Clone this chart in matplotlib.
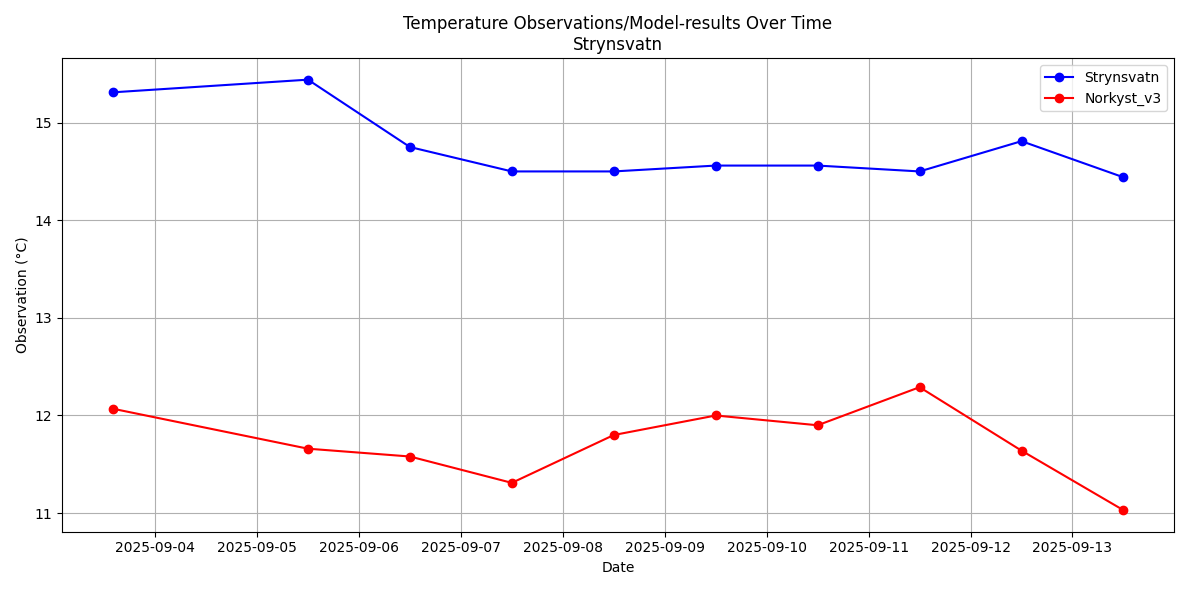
import matplotlib
matplotlib.use("Agg")
import matplotlib.pyplot as plt
import matplotlib.dates as mdates
import pandas as pd

dates = pd.to_datetime(["2025-09-03 14:00", "2025-09-05 12:00", "2025-09-06 12:00", "2025-09-07 12:00",
                        "2025-09-08 12:00", "2025-09-09 12:00", "2025-09-10 12:00", "2025-09-11 12:00",
                        "2025-09-12 12:00", "2025-09-13 12:00"])
strynsvatn = [15.31, 15.44, 14.75, 14.50, 14.50, 14.56, 14.56, 14.50, 14.81, 14.44]
norkyst = [12.07, 11.66, 11.58, 11.31, 11.80, 12.00, 11.90, 12.29, 11.64, 11.03]

fig, ax = plt.subplots(figsize=(11.89, 5.9), dpi=100)
ax.plot(dates, strynsvatn, "o-", color="blue", label="Strynsvatn")
ax.plot(dates, norkyst, "o-", color="red", label="Norkyst_v3")
ax.set_title("Temperature Observations/Model-results Over Time\nStrynsvatn")
ax.set_xlabel("Date")
ax.set_ylabel("Observation (°C)")
ax.xaxis.set_major_locator(mdates.DayLocator())
ax.xaxis.set_major_formatter(mdates.DateFormatter("%Y-%m-%d"))
ax.grid(True)
ax.legend(loc="upper right")
fig.tight_layout()
fig.savefig("out.png")
